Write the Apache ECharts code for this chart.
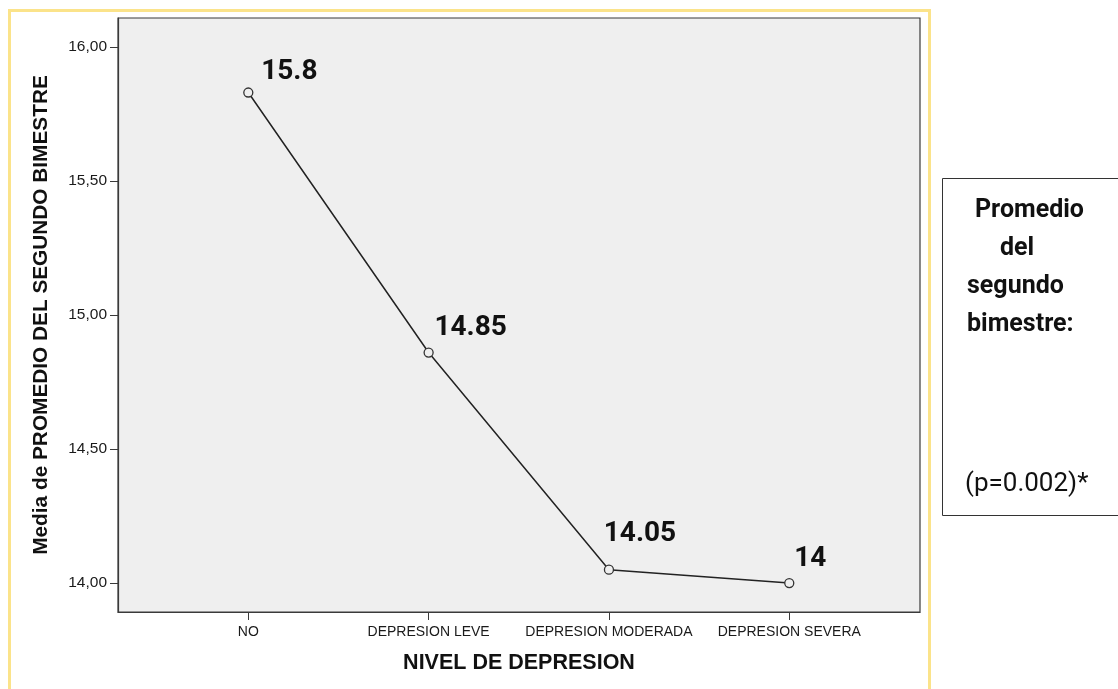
<!DOCTYPE html>
<html>
<head>
<meta charset="utf-8">
<script src="https://cdn.jsdelivr.net/npm/echarts@6/dist/echarts.min.js"></script>
<style>
html,body{margin:0;padding:0;background:#fff;}
#chart{width:1118px;height:689px;}
</style>
</head>
<body>
<div id="chart"></div>
<script>
// ---- data ----
const categories = ['NO', 'DEPRESION LEVE', 'DEPRESION MODERADA', 'DEPRESION SEVERA'];
const means = [15.83, 14.86, 14.05, 14.00];
const valueLabels = ['15.8', '14.85', '14.05', '14'];
const yTicks = [14.0, 14.5, 15.0, 15.5, 16.0];
const xTicks = [0, 1, 2, 3];
const yAxisTitle = 'Media de PROMEDIO DEL SEGUNDO BIMESTRE';
const xAxisTitle = 'NIVEL DE DEPRESION';
const boxLines = ['Promedio', 'del', 'segundo', 'bimestre:'];
const boxNote = '(p=0.002)*';

// ---- styling ----
const labelOffsets = [[41, -21], [42, -25], [31, -36], [21, -24]];
const sans = '"Liberation Sans", Arial, sans-serif';

const chart = echarts.init(document.getElementById('chart'), null, {renderer: 'canvas'});

const seriesData = means.map((v, i) => ({
  value: [xTicks[i], v],
  label: {offset: labelOffsets[i]}
}));

const boxTextX = [975, 1000, 967, 967];
const boxTextY = [211, 249, 287, 325];

const option = {
  backgroundColor: '#ffffff',
  animation: false,
  grid: {
    left: 118, top: 18, right: 198, bottom: 77,
    show: true, backgroundColor: '#efefef', borderColor: '#3a3a3a', borderWidth: 1.2
  },
  xAxis: {
    type: 'value',
    min: -0.7226, max: 3.725,
    splitLine: {show: false},
    axisLine: {show: true, onZero: false, lineStyle: {color: '#3a3a3a', width: 1.2}},
    axisTick: {show: true, customValues: xTicks, length: 8, lineStyle: {color: '#3a3a3a'}},
    axisLabel: {
      customValues: xTicks,
      hideOverlap: false,
      formatter: v => categories[Math.round(v)] || '',
      color: '#1a1a1a', fontFamily: sans, fontSize: 14, margin: 13
    },
    name: xAxisTitle, nameLocation: 'middle', nameGap: 40,
    nameTextStyle: {fontFamily: sans, fontWeight: 'bold', fontSize: 21.5, color: '#111'}
  },
  yAxis: {
    type: 'value',
    min: 13.892, max: 16.108,
    splitLine: {show: false},
    axisLine: {show: true, onZero: false, lineStyle: {color: '#3a3a3a', width: 1.2}},
    axisTick: {show: true, customValues: yTicks, length: 8, lineStyle: {color: '#3a3a3a'}},
    axisLabel: {
      customValues: yTicks,
      formatter: v => v.toFixed(2).replace('.', ','),
      color: '#1a1a1a', fontFamily: sans, fontSize: 15.5, margin: 11
    },
    name: yAxisTitle, nameLocation: 'middle', nameGap: 66, nameRotate: 90,
    nameTextStyle: {fontFamily: sans, fontWeight: 'bold', fontSize: 20.8, color: '#111'}
  },
  series: [{
    type: 'line',
    data: seriesData,
    symbol: 'circle',
    symbolSize: 9,
    lineStyle: {color: '#222', width: 1.5},
    itemStyle: {color: '#efefef', borderColor: '#333', borderWidth: 1.3},
    label: {
      show: true, position: 'inside',
      formatter: p => valueLabels[p.dataIndex],
      fontFamily: 'Roboto, sans-serif', fontWeight: 'bold', fontSize: 28, color: '#111'
    },
    z: 3
  }],
  graphic: [
    {type: 'rect', shape: {x: 9.5, y: 10.5, width: 920, height: 700},
     style: {fill: 'none', stroke: '#fbe38a', lineWidth: 3}, silent: true, z: 10},
    {type: 'rect', shape: {x: 942.5, y: 178.5, width: 200, height: 337},
     style: {fill: '#fff', stroke: '#333', lineWidth: 1}, silent: true}
  ].concat(boxLines.map((t, i) => ({
    type: 'text', x: boxTextX[i], y: boxTextY[i],
    style: {text: t, fill: '#111', font: 'bold 25px Roboto, sans-serif', textVerticalAlign: 'middle'},
    silent: true
  }))).concat([{
    type: 'text', x: 965, y: 484,
    style: {text: boxNote, fill: '#111', font: '26px Roboto, sans-serif', textVerticalAlign: 'middle'},
    silent: true
  }])
};
chart.setOption(option);
</script>
</body>
</html>
